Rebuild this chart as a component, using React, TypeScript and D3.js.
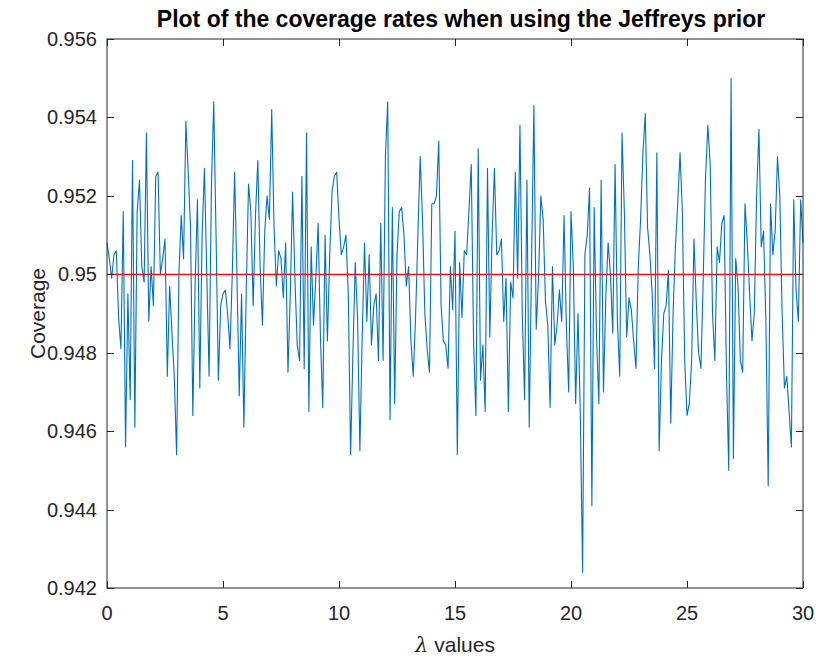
import React, { useEffect, useRef } from 'react';
import * as d3 from 'd3';

// coverage at lambda = 0, 0.1, ..., 30
const lambdaStep = 0.1;
const coverage = [
  0.9508, 0.9504, 0.9499, 0.9505, 0.9506, 0.9489, 0.9481, 0.9516, 0.9456, 0.9495,
  0.9468, 0.9529, 0.9461, 0.9516, 0.9524, 0.9502, 0.9498, 0.9536, 0.9488, 0.9502,
  0.9492, 0.9525, 0.9526, 0.9500, 0.9504, 0.9509, 0.9474, 0.9497, 0.9485, 0.9474,
  0.9454, 0.9500, 0.9515, 0.9504, 0.9539, 0.9526, 0.9512, 0.9464, 0.9498, 0.9519,
  0.9471, 0.9510, 0.9527, 0.9500, 0.9474, 0.9522, 0.9544, 0.9510, 0.9473, 0.9492,
  0.9495, 0.9496, 0.9490, 0.9481, 0.9500, 0.9526, 0.9500, 0.9469, 0.9495, 0.9461,
  0.9495, 0.9523, 0.9516, 0.9492, 0.9515, 0.9529, 0.9502, 0.9487, 0.9511, 0.9520,
  0.9514, 0.9542, 0.9512, 0.9497, 0.9506, 0.9504, 0.9494, 0.9508, 0.9475, 0.9495,
  0.9521, 0.9499, 0.9482, 0.9478, 0.9525, 0.9476, 0.9536, 0.9465, 0.9507, 0.9487,
  0.9499, 0.9513, 0.9484, 0.9466, 0.9510, 0.9483, 0.9505, 0.9521, 0.9525, 0.9526,
  0.9514, 0.9505, 0.9507, 0.9510, 0.9495, 0.9454, 0.9480, 0.9503, 0.9489, 0.9455,
  0.9484, 0.9508, 0.9488, 0.9505, 0.9482, 0.9492, 0.9495, 0.9478, 0.9513, 0.9478,
  0.9530, 0.9544, 0.9463, 0.9517, 0.9467, 0.9505, 0.9516, 0.9517, 0.9510, 0.9497,
  0.9502, 0.9483, 0.9474, 0.9489, 0.9510, 0.9530, 0.9514, 0.9490, 0.9481, 0.9475,
  0.9518, 0.9518, 0.9520, 0.9534, 0.9492, 0.9483, 0.9482, 0.9476, 0.9502, 0.9491,
  0.9511, 0.9454, 0.9503, 0.9489, 0.9506, 0.9505, 0.9516, 0.9528, 0.9483, 0.9464,
  0.9532, 0.9473, 0.9482, 0.9465, 0.9527, 0.9484, 0.9510, 0.9527, 0.9505, 0.9506,
  0.9509, 0.9488, 0.9499, 0.9465, 0.9498, 0.9494, 0.9526, 0.9499, 0.9538, 0.9490,
  0.9468, 0.9524, 0.9461, 0.9503, 0.9543, 0.9486, 0.9499, 0.9520, 0.9514, 0.9493,
  0.9487, 0.9466, 0.9502, 0.9482, 0.9487, 0.9496, 0.9488, 0.9515, 0.9487, 0.9470,
  0.9516, 0.9502, 0.9467, 0.9490, 0.9465, 0.9424, 0.9505, 0.9510, 0.9522, 0.9441,
  0.9517, 0.9484, 0.9467, 0.9524, 0.9470, 0.9494, 0.9508, 0.9500, 0.9485, 0.9528,
  0.9488, 0.9474, 0.9536, 0.9516, 0.9484, 0.9494, 0.9491, 0.9483, 0.9476, 0.9502,
  0.9514, 0.9531, 0.9541, 0.9512, 0.9505, 0.9495, 0.9476, 0.9531, 0.9455, 0.9478,
  0.9490, 0.9492, 0.9501, 0.9462, 0.9490, 0.9507, 0.9518, 0.9531, 0.9516, 0.9478,
  0.9464, 0.9467, 0.9478, 0.9509, 0.9493, 0.9480, 0.9476, 0.9499, 0.9525, 0.9538,
  0.9528, 0.9490, 0.9478, 0.9507, 0.9503, 0.9513, 0.9515, 0.9475, 0.9450, 0.9550,
  0.9453, 0.9504, 0.9497, 0.9478, 0.9475, 0.9518, 0.9508, 0.9495, 0.9483, 0.9490,
  0.9520, 0.9537, 0.9507, 0.9511, 0.9488, 0.9446, 0.9518, 0.9505, 0.9511, 0.9530,
  0.9520, 0.9490, 0.9471, 0.9474, 0.9465, 0.9456, 0.9519, 0.9496, 0.9488, 0.9519,
  0.9508,
];
const target = 0.95;
const xTicks = [0, 5, 10, 15, 20, 25, 30];
const yTicks = [0.942, 0.944, 0.946, 0.948, 0.95, 0.952, 0.954, 0.956];

export default function App() {
  const ref = useRef<SVGSVGElement>(null);

  useEffect(() => {
    const width = 816;
    const height = 660;
    const left = 107, right = 803, top = 39, bottom = 588;
    const axisColor = '#262626';
    const font = '"Liberation Sans", Arial, Helvetica, sans-serif';

    const svg = d3.select(ref.current)
      .attr('width', width)
      .attr('height', height)
      .style('font-family', font);
    svg.selectAll('*').remove();

    const x = d3.scaleLinear().domain([0, 30]).range([left, right]);
    const y = d3.scaleLinear().domain([0.942, 0.956]).range([bottom, top]);

    svg.append('rect')
      .attr('width', width).attr('height', height).attr('fill', 'white');

    const data = coverage.map((c, i) => [i * lambdaStep, c] as [number, number]);
    const line = d3.line<[number, number]>()
      .x(d => x(d[0]))
      .y(d => y(d[1]));

    svg.append('path')
      .datum(data)
      .attr('d', line)
      .attr('fill', 'none')
      .attr('stroke', '#0072BD')
      .attr('stroke-width', 1.1)
      .attr('stroke-linejoin', 'round');

    svg.append('path')
      .datum([[0, target], [30, target]] as [number, number][])
      .attr('d', line)
      .attr('fill', 'none')
      .attr('stroke', '#FF0000')
      .attr('stroke-width', 1.2);

    // box + inward ticks on all four sides
    const tl = 7;
    const g = svg.append('g').attr('stroke', axisColor).attr('stroke-width', 1).attr('fill', 'none');
    g.append('rect')
      .attr('x', left).attr('y', top)
      .attr('width', right - left).attr('height', bottom - top);
    xTicks.forEach(t => {
      const px = Math.round(x(t)) + 0.5;
      g.append('line').attr('x1', px).attr('x2', px).attr('y1', bottom).attr('y2', bottom - tl);
      g.append('line').attr('x1', px).attr('x2', px).attr('y1', top).attr('y2', top + tl);
    });
    yTicks.forEach(t => {
      const py = Math.round(y(t)) + 0.5;
      g.append('line').attr('x1', left).attr('x2', left + tl).attr('y1', py).attr('y2', py);
      g.append('line').attr('x1', right).attr('x2', right - tl).attr('y1', py).attr('y2', py);
    });

    svg.append('g').selectAll('text')
      .data(xTicks).enter().append('text')
      .attr('x', d => x(d))
      .attr('y', 620)
      .attr('text-anchor', 'middle')
      .attr('font-size', 20)
      .attr('fill', axisColor)
      .text(d => String(d));

    svg.append('g').selectAll('text')
      .data(yTicks).enter().append('text')
      .attr('x', 97)
      .attr('y', d => y(d) + 7)
      .attr('text-anchor', 'end')
      .attr('font-size', 20)
      .attr('fill', axisColor)
      .text(d => String(d));

    svg.append('text')
      .attr('x', 461)
      .attr('y', 27)
      .attr('text-anchor', 'middle')
      .attr('font-size', 23)
      .attr('font-weight', 'bold')
      .attr('fill', '#000')
      .text('Plot of the coverage rates when using the Jeffreys prior');

    const xl = svg.append('text')
      .attr('x', (left + right) / 2)
      .attr('y', 652)
      .attr('text-anchor', 'middle')
      .attr('font-size', 21)
      .attr('fill', axisColor);
    xl.append('tspan').attr('font-style', 'italic').attr('font-family', '"DejaVu Serif", serif').text('λ');
    xl.append('tspan').text(' values');

    svg.append('text')
      .attr('transform', `translate(45, ${(top + bottom) / 2}) rotate(-90)`)
      .attr('text-anchor', 'middle')
      .attr('font-size', 21)
      .attr('fill', axisColor)
      .text('Coverage');
  }, []);

  return (
    <svg ref={ref} style={{ position: 'absolute', left: 0, top: 0 }} />
  );
}
